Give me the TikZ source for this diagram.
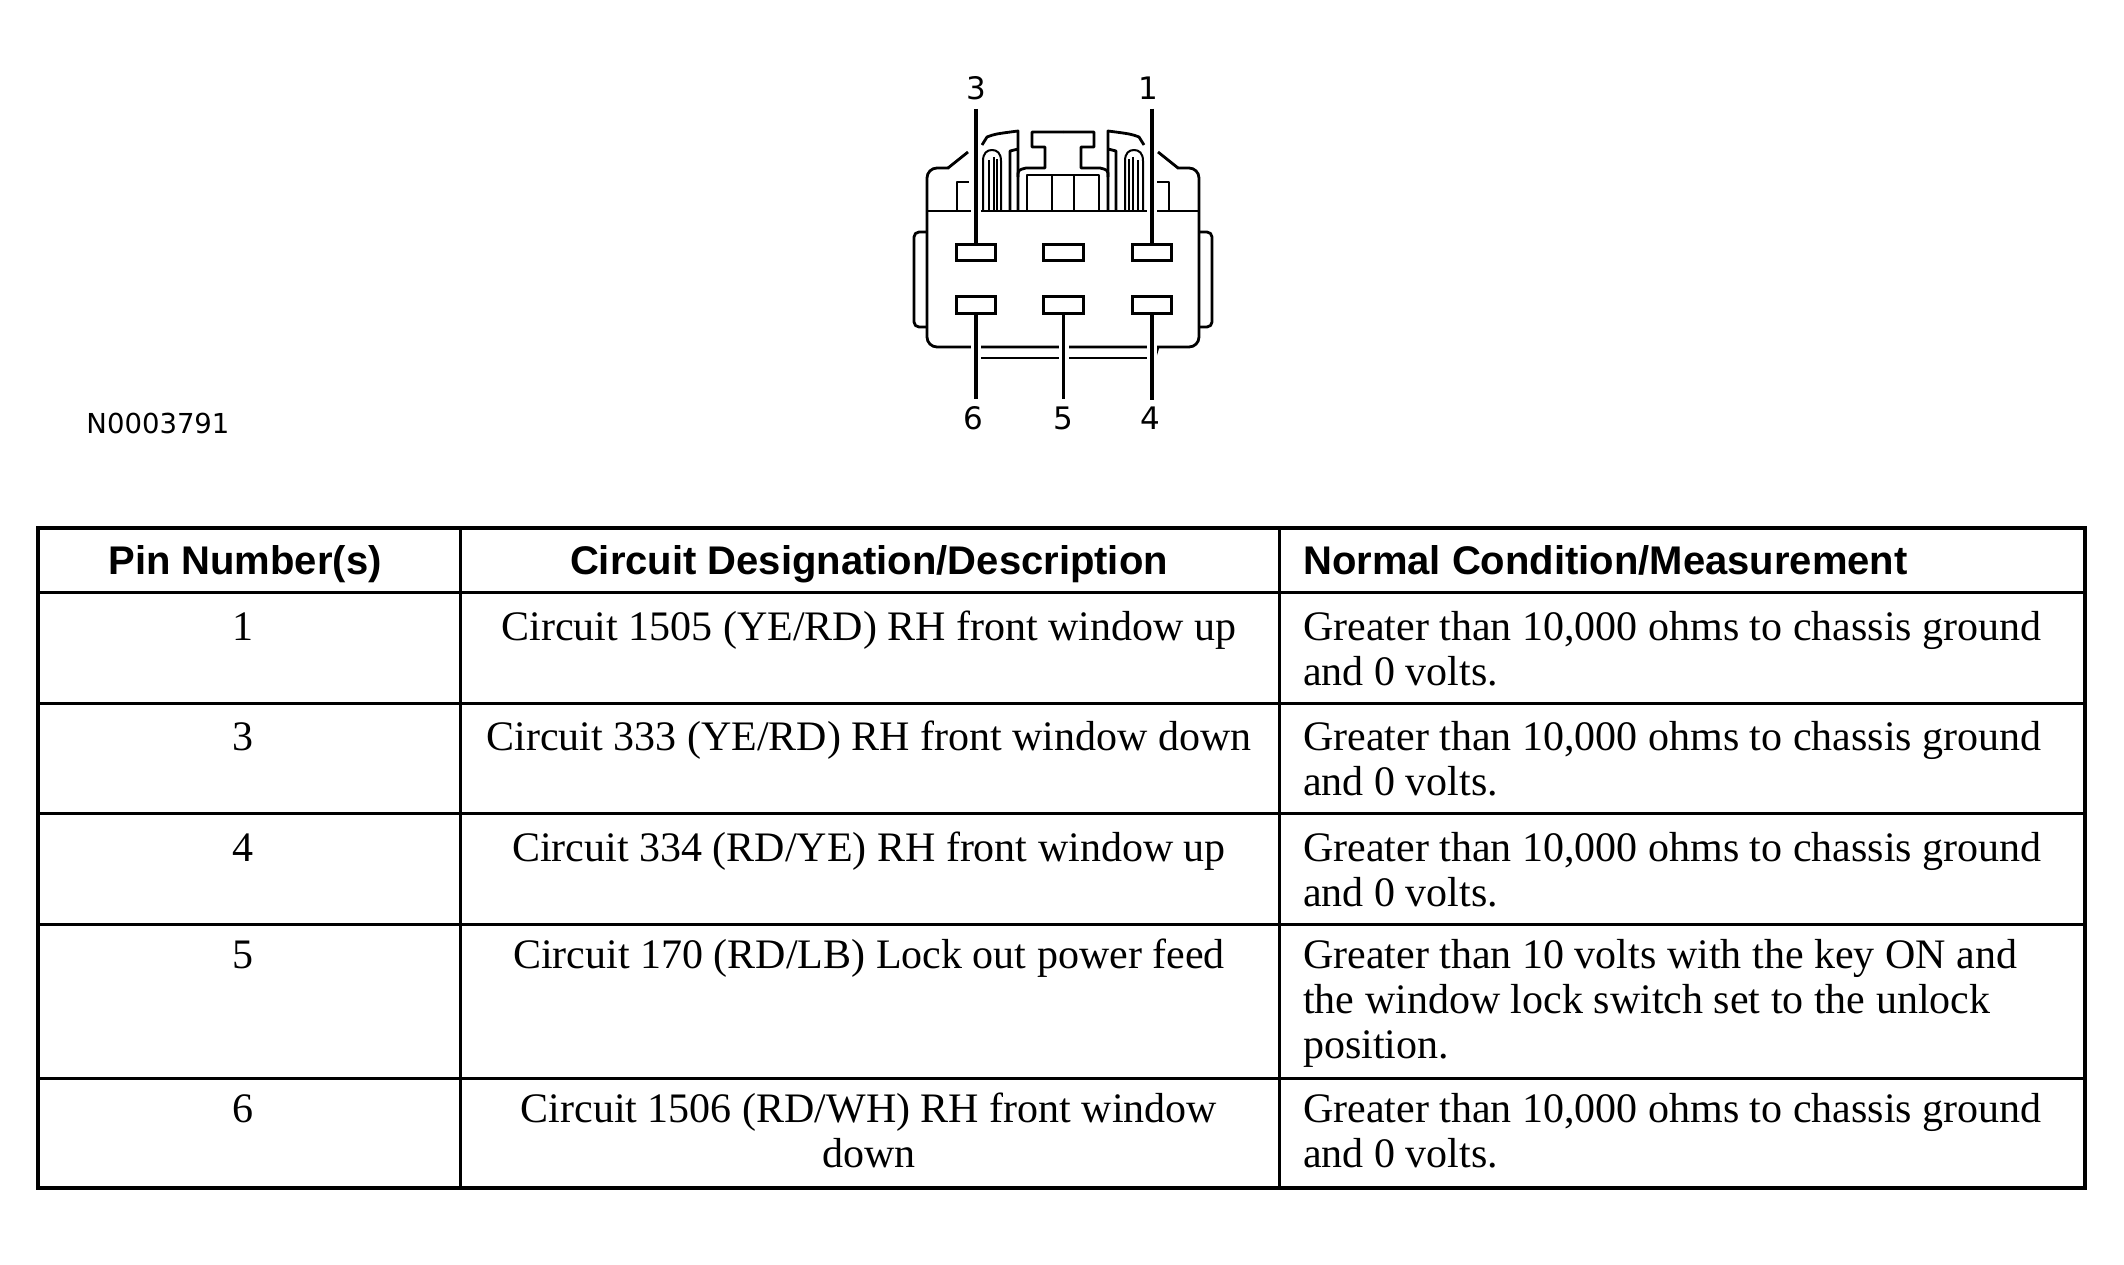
\documentclass[tikz,border=0pt]{standalone}
\usepackage{fontspec}
\setmainfont{Liberation Serif}
\setsansfont{Liberation Sans}
\newfontfamily\labelfont{DejaVu Sans}
\pgfdeclarelayer{bodylayer}
\pgfdeclarelayer{gaplayer}
\pgfsetlayers{bodylayer,gaplayer,main}
\newcommand\halfconn{%
  \draw[ol, rounded corners=10pt] (949,168) -- (927,168) -- (927,347) -- (1063,347);
  \draw[ol] (948,168) -- (968,152);
  \draw[ol, rounded corners=5pt] (927,232) -- (914,232) -- (914,327) -- (927,327);
  \draw[ol] (927,211) -- (1063,211);
  \draw[ol] (957,211) -- (957,182) -- (969,182);
  \draw[fin] (983,211) -- (983,161) .. controls (983,153) and (987,150) .. (992,150) .. controls (997,150) and (1001,153) .. (1001,161) -- (1001,211);
  \draw[fin] (988.5,211) -- (988.5,160);
  \draw[fin] (993.5,211) -- (993.5,157);
  \draw[fin] (997,211) -- (997,159);
  \draw[ol] (982,145) -- (987,137) .. controls (995,134) .. (1018,131) -- (1018,211);
  \draw[ol] (1010,211) -- (1010,151) -- (1018,149);
  \draw[ol] (1018,177) .. controls (1018,170) .. (1026,168) -- (1045,168) -- (1045,147) -- (1032,147) -- (1032,132) -- (1063,132);
  \draw[ol] (1063,175) -- (1027,175) -- (1027,211);
  \draw[ol] (1052,175) -- (1052,211);
}
\newcommand\leadline[2]{%
  \draw[lead] #1 -- #2;
  \begin{pgfonlayer}{gaplayer}\draw[gapline] #1 -- #2;\end{pgfonlayer}}
\begin{document}
\begin{tikzpicture}[x=1pt,y=-1pt,
  ol/.style={line width=2.8pt, line join=round},
  fin/.style={line width=2pt, line join=round},
  pinbox/.style={draw, line width=2.8pt, minimum width=39.5pt, minimum height=16.5pt, inner sep=0pt},
  lbl/.style={font=\fontsize{31}{33}\labelfont, inner xsep=0pt, inner ysep=7pt},
  lead/.style={line width=3.2pt},
  gapline/.style={draw=white, line width=10pt},
  tblout/.style={line width=4pt},
  tblin/.style={line width=3pt},
  hdr/.style={font=\fontsize{40}{45}\selectfont\sffamily\bfseries, inner sep=0pt, anchor=base},
  cell/.style={font=\fontsize{42}{45}\selectfont, inner sep=0pt, anchor=base},
  celll/.style={cell, anchor=base west}]
\useasboundingbox (0,0) rectangle (2124,1264);

% ---------- connector body ----------
\begin{pgfonlayer}{bodylayer}
  \fill[white] (0,0) rectangle (2124,1264);
  \halfconn
  \begin{scope}[xshift=2126pt, xscale=-1]
    \halfconn
  \end{scope}
  \draw[ol] (975,358) -- (1152,358);
  \draw[ol] (1158,347) -- (1155,357);
\end{pgfonlayer}

% pins
\node[pinbox] (p3) at (976,252.5) {};
\node[pinbox] (p2) at (1063.5,252.5) {};
\node[pinbox] (p1) at (1152,252.5) {};
\node[pinbox] (p6) at (976,305) {};
\node[pinbox] (p5) at (1063.5,305) {};
\node[pinbox] (p4) at (1152,305) {};

% pin labels
\node[lbl, inner ysep=9pt] (l3) at (976,88) {3};
\node[lbl, inner ysep=9pt] (l1) at (1148,88) {1};
\node[lbl] (l6) at (973,418) {6};
\node[lbl] (l5) at (1063,418) {5};
\node[lbl] (l4) at (1150,418) {4};

\leadline{(l3.south -| p3.north)}{(p3.north)}
\leadline{(l1.south -| p1.north)}{(p1.north)}
\leadline{(p6.south)}{(l6.north -| p6.south)}
\leadline{(p5.south)}{(l5.north -| p5.south)}
\leadline{(p4.south)}{(l4.north -| p4.south)}

% figure id
\node[font=\fontsize{27.5}{30}\labelfont, inner sep=0pt] (fid) at (158,423) {N0003791};

% ---------- table ----------
\draw[tblin] (460,528) -- (460,1188);
\draw[tblin] (1279,528) -- (1279,1188);
\foreach \yy in {592,703,813,924,1078} \draw[tblin] (38,\yy) -- (2085,\yy);
\draw[tblout] (38,528) rectangle (2085,1188);

\node[hdr] (h1) at (245,574) {Pin Number(s)};
\node[hdr] (h2) at (869,574) {Circuit Designation/Description};
\node[hdr, anchor=base west] (h3) at (1303,574) {Normal Condition/Measurement};

\node[cell] (r1a) at (243,640) {1};
\node[cell] (r1b) at (869,640) {Circuit 1505 (YE/RD) RH front window up};
\node[celll] (r1c) at (1303,640) {Greater than 10,000 ohms to chassis ground};
\node[celll] (r1d) at (1303,685) {and 0 volts.};

\node[cell] (r2a) at (243,750) {3};
\node[cell] (r2b) at (869,750) {Circuit 333 (YE/RD) RH front window down};
\node[celll] (r2c) at (1303,750) {Greater than 10,000 ohms to chassis ground};
\node[celll] (r2d) at (1303,795) {and 0 volts.};

\node[cell] (r3a) at (243,861) {4};
\node[cell] (r3b) at (869,861) {Circuit 334 (RD/YE) RH front window up};
\node[celll] (r3c) at (1303,861) {Greater than 10,000 ohms to chassis ground};
\node[celll] (r3d) at (1303,906) {and 0 volts.};

\node[cell] (r4a) at (243,968) {5};
\node[cell] (r4b) at (869,968) {Circuit 170 (RD/LB) Lock out power feed};
\node[celll] (r4c) at (1303,968) {Greater than 10 volts with the key ON and};
\node[celll] (r4d) at (1303,1013) {the window lock switch set to the unlock};
\node[celll] (r4e) at (1303,1058) {position.};

\node[cell] (r5a) at (243,1122) {6};
\node[cell] (r5b) at (869,1122) {Circuit 1506 (RD/WH) RH front window};
\node[cell] (r5c) at (869,1167) {down};
\node[celll] (r5d) at (1303,1122) {Greater than 10,000 ohms to chassis ground};
\node[celll] (r5e) at (1303,1167) {and 0 volts.};
\end{tikzpicture}
\end{document}
